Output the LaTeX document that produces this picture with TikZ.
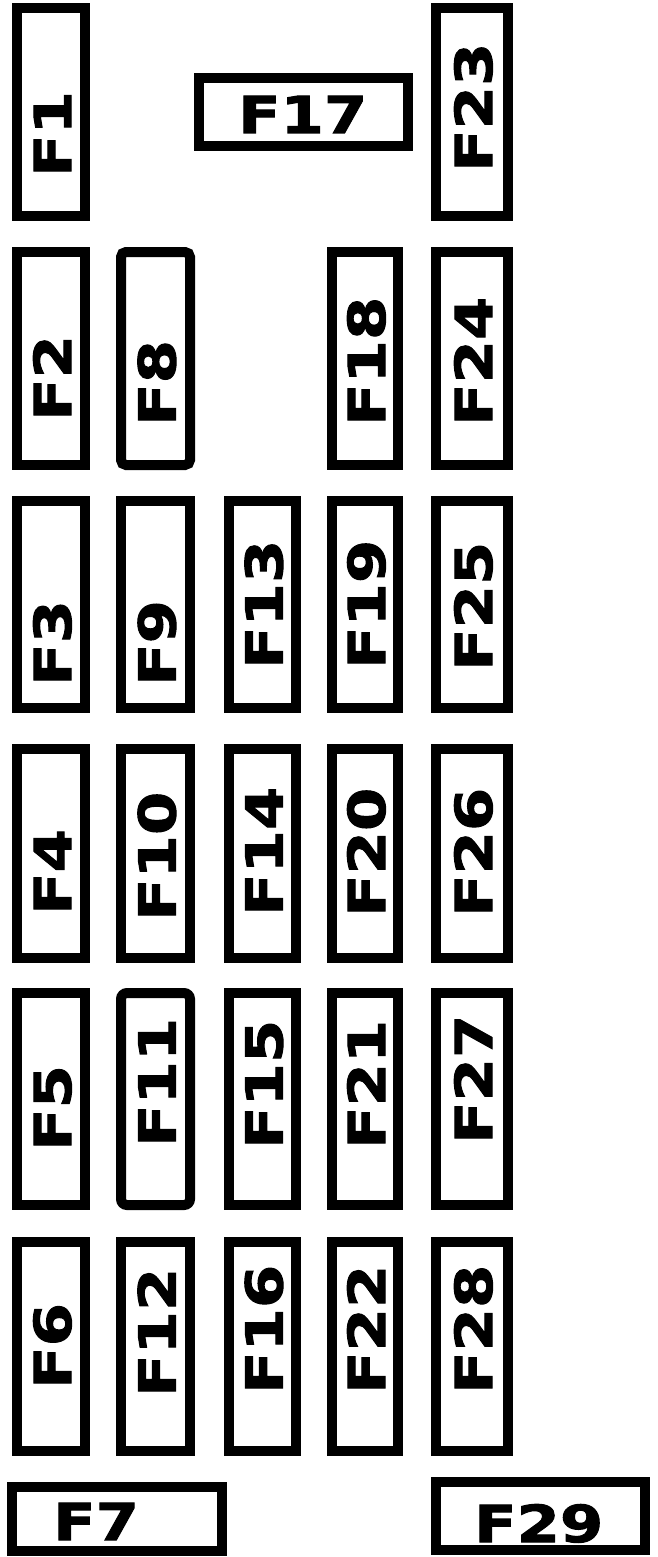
\documentclass[tikz,border=0pt]{standalone}
\usepackage{fontspec}
\newfontfamily\fusefont{DejaVu Sans}[BoldFeatures={FakeStretch=1.22,FakeBold=2}]
\tikzset{
  fuse/.style={draw=black, line width=10pt, inner sep=0pt, fill=white},
  lbl/.style={font=\fusefont\bfseries\fontsize{51}{51}\selectfont, inner sep=0pt, text=black},
  vlbl/.style={lbl, rotate=90, anchor=base west}
}
% [extra style] name, x1, x2, y1, y2, label, ink start (y, image px)
\newcommand\vfuse[8][]{%
  \pgfmathsetmacro\fcx{(#3+#4)/2}%
  \pgfmathsetmacro\fcy{(#5+#6)/2}%
  \pgfmathsetmacro\fww{#4-#3-10}%
  \pgfmathsetmacro\fhh{#6-#5-10}%
  \node[fuse, minimum width=\fww pt, minimum height=\fhh pt, #1] (#2) at (\fcx pt,-\fcy pt) {};
  \node[vlbl] (#2-l) at ({\fcx pt+20pt},{-#8pt-4pt}) {#7};
}
\newcommand\hfuse[8]{%
  \pgfmathsetmacro\fcx{(#2+#3)/2}%
  \pgfmathsetmacro\fcy{(#4+#5)/2}%
  \pgfmathsetmacro\fww{#3-#2-10}%
  \pgfmathsetmacro\fhh{#5-#4-10}%
  \node[fuse, minimum width=\fww pt, minimum height=\fhh pt] (#1) at (\fcx pt,-\fcy pt) {};
  \node[lbl, anchor=base west] (#1-l) at ({#7pt-4pt},{-#8pt}) {#6};
}
\begin{document}
\begin{tikzpicture}
\fill[white] (0,0) rectangle (657pt,-1557pt);
\useasboundingbox (0,0) rectangle (657pt,-1557pt);
% row 1
\vfuse{F1}{12}{90}{3}{221}{F1}{173}
\hfuse{F17}{194}{413}{73}{151}{F17}{242}{133}
\vfuse{F23}{431}{513}{3}{221}{F23}{168}
% row 2
\vfuse{F2}{12}{90}{247}{470}{F2}{417}
\vfuse[rounded corners=5pt]{F8}{116}{195}{247}{470}{F8}{422}
\vfuse{F18}{327}{403}{247}{470}{F18}{422}
\vfuse{F24}{431}{513}{247}{470}{F24}{422}
% row 3
\vfuse{F3}{12}{90}{496}{713}{F3}{682}
\vfuse{F9}{116}{195}{496}{713}{F9}{682}
\vfuse{F13}{224}{301}{496}{713}{F13}{665}
\vfuse{F19}{327}{403}{496}{713}{F19}{665}
\vfuse{F25}{431}{513}{496}{713}{F25}{667}
% row 4
\vfuse{F4}{12}{90}{744}{963}{F4}{911}
\vfuse{F10}{116}{195}{744}{963}{F10}{917}
\vfuse{F14}{224}{301}{744}{963}{F14}{912}
\vfuse{F20}{327}{403}{744}{963}{F20}{913}
\vfuse{F26}{431}{513}{744}{963}{F26}{913}
% row 5
\vfuse{F5}{12}{90}{988}{1210}{F5}{1147}
\vfuse[rounded corners=6pt]{F11}{116}{195}{988}{1210}{F11}{1143}
\vfuse{F15}{224}{301}{988}{1210}{F15}{1145}
\vfuse{F21}{327}{403}{988}{1210}{F21}{1145}
\vfuse{F27}{431}{513}{988}{1210}{F27}{1140}
% row 6
\vfuse{F6}{12}{90}{1237}{1456}{F6}{1385}
\vfuse{F12}{116}{195}{1237}{1456}{F12}{1393}
\vfuse{F16}{224}{301}{1237}{1456}{F16}{1390}
\vfuse{F22}{327}{403}{1237}{1456}{F22}{1390}
\vfuse{F28}{431}{513}{1237}{1456}{F28}{1390}
% bottom
\hfuse{F7}{7}{227}{1482}{1556}{F7}{57}{1540}
\hfuse{F29}{431}{650}{1477}{1555}{F29}{478}{1542}
\end{tikzpicture}
\end{document}
